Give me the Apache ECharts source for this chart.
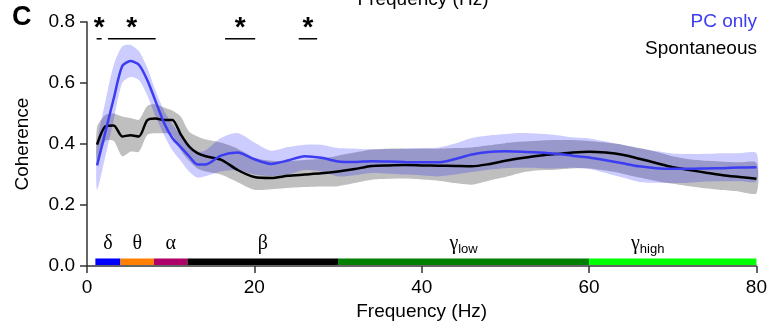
<!DOCTYPE html>
<html>
<head>
<meta charset="UTF-8">
<title>Coherence</title>
<style>
	html, body { margin: 0; padding: 0; background: #fff; }
	#container { width: 770px; height: 326px; }
</style>
</head>
<body>
<div id="container"></div>
<script src="https://cdn.jsdelivr.net/npm/echarts@6/dist/echarts.min.js"></script>
<script>
// frequencies (Hz) at which values were read
var freqs = [1.2, 2.2, 3.2, 4.2, 5.2, 6.2, 7.2, 8.2, 9.2, 10.2, 11.2, 12.2, 13.2, 14.2,
	16, 18, 20, 22, 24, 26, 28, 30, 32, 34, 36, 38, 40, 42, 44, 46, 48, 50,
	52, 54, 56, 58, 60, 62, 64, 66, 68, 70, 72, 74, 76, 78, 80];

// PC only
var pcMean = [0.33, 0.44, 0.55, 0.655, 0.672, 0.66, 0.61, 0.54, 0.47, 0.42, 0.39, 0.36, 0.333, 0.333,
	0.362, 0.372, 0.35, 0.335, 0.346, 0.36, 0.355, 0.343, 0.341, 0.344, 0.343, 0.341, 0.34, 0.34,
	0.351, 0.366, 0.374, 0.376, 0.375, 0.372, 0.368, 0.362, 0.356, 0.347, 0.337, 0.327, 0.321,
	0.319, 0.319, 0.32, 0.321, 0.323, 0.324];
var pcHi = [0.40, 0.54, 0.66, 0.72, 0.725, 0.705, 0.65, 0.575, 0.51, 0.465, 0.43, 0.40, 0.375, 0.38,
	0.42, 0.436, 0.405, 0.378, 0.39, 0.398, 0.398, 0.387, 0.385, 0.383, 0.384, 0.385, 0.387, 0.389,
	0.402, 0.42, 0.428, 0.433, 0.436, 0.434, 0.43, 0.422, 0.418, 0.408, 0.397, 0.386, 0.377,
	0.369, 0.367, 0.368, 0.37, 0.37, 0.37];
var pcLo = [0.25, 0.36, 0.48, 0.60, 0.62, 0.61, 0.56, 0.49, 0.43, 0.38, 0.345, 0.31, 0.29, 0.295,
	0.31, 0.315, 0.30, 0.295, 0.30, 0.315, 0.31, 0.294, 0.298, 0.305, 0.303, 0.30, 0.297, 0.294,
	0.30, 0.308, 0.316, 0.321, 0.322, 0.321, 0.32, 0.322, 0.318, 0.305, 0.29, 0.276, 0.273,
	0.272, 0.273, 0.277, 0.278, 0.278, 0.278];

// Spontaneous
var spMean = [0.398, 0.458, 0.461, 0.425, 0.429, 0.425, 0.478, 0.484, 0.479, 0.479, 0.432, 0.392, 0.37, 0.36,
	0.349, 0.315, 0.292, 0.289, 0.296, 0.30, 0.304, 0.31, 0.318, 0.328, 0.33, 0.331, 0.33, 0.329,
	0.328, 0.327, 0.334, 0.345, 0.354, 0.362, 0.367, 0.372, 0.375, 0.372, 0.365, 0.352, 0.338,
	0.324, 0.315, 0.306, 0.298, 0.292, 0.286];
var spHi = [0.455, 0.495, 0.50, 0.49, 0.485, 0.48, 0.525, 0.53, 0.52, 0.51, 0.49, 0.44, 0.425, 0.415,
	0.405, 0.385, 0.355, 0.345, 0.345, 0.348, 0.352, 0.362, 0.372, 0.382, 0.385, 0.385, 0.385, 0.385,
	0.387, 0.389, 0.396, 0.403, 0.408, 0.411, 0.413, 0.413, 0.41, 0.405, 0.398, 0.387, 0.375,
	0.36, 0.35, 0.345, 0.342, 0.34, 0.338];
var spLo = [0.34, 0.41, 0.41, 0.36, 0.375, 0.375, 0.43, 0.435, 0.435, 0.43, 0.38, 0.345, 0.32, 0.31,
	0.30, 0.275, 0.25, 0.252, 0.256, 0.259, 0.261, 0.262, 0.272, 0.283, 0.286, 0.287, 0.284, 0.28,
	0.272, 0.267, 0.28, 0.292, 0.307, 0.314, 0.316, 0.32, 0.32, 0.313, 0.303, 0.29, 0.279,
	0.27, 0.262, 0.255, 0.249, 0.244, 0.239];

// frequency bands
var bandNames = ['δ', 'θ', 'α', 'β', 'γ', 'γ'];
var bandSubs = ['', '', '', '', 'low', 'high'];
var bandFrom = [1, 4, 8, 12, 30, 60];
var bandTo = [4, 8, 12, 30, 60, 80];
var bandLabelHz = [2.5, 6, 10, 21, 45, 67];
var bandColors = ['#0000ff', '#ff8000', '#b0006a', '#000000', '#008000', '#00ff00'];

// significance bars (Hz)
var sigFrom = [1.15, 2.5, 16.5, 25.3];
var sigTo = [1.75, 8.2, 20.1, 27.5];

var FONT = '"Liberation Sans", Arial, Helvetica, sans-serif';
var SERIF = '"Liberation Serif", "Times New Roman", serif';
var BLUE = '#3c3cf2';

function pair(xs, ys) {
	return xs.map(function (x, i) { return [x, ys[i]]; });
}

// shaded band between lo and hi, drawn as one polygon
function bandSeries(hi, lo, color) {
	return {
		type: 'custom', silent: true,
		encode: { x: 0, y: 1 },
		data: [[freqs[0], lo[0]]],
		renderItem: function (params, api) {
			var top = freqs.map(function (f, i) { return api.coord([f, hi[i]]); });
			var bot = freqs.map(function (f, i) { return api.coord([f, lo[i]]); }).reverse();
			return {
				type: 'polygon',
				shape: { points: top.concat(bot), smooth: 0.25 },
				style: { fill: color }
			};
		}
	};
}

var dom = document.getElementById('container');
var myChart = echarts.init(dom);

var option = {
	animation: false,
	backgroundColor: '#fff',
	grid: { left: 87, right: 10, top: 22, bottom: 58 },
	xAxis: {
		type: 'value', min: 0, max: 80, interval: 20,
		name: 'Frequency (Hz)', nameLocation: 'middle', nameGap: 34,
		nameTextStyle: { fontFamily: FONT, fontSize: 19, color: '#000' },
		axisLine: { lineStyle: { color: '#333', width: 1.5 } },
		axisTick: { length: 7, lineStyle: { color: '#333', width: 1.5 } },
		axisLabel: { margin: 12, fontFamily: FONT, fontSize: 19, color: '#000' },
		splitLine: { show: false }
	},
	yAxis: {
		type: 'value', min: 0, max: 0.8, interval: 0.2,
		name: 'Coherence', nameLocation: 'middle', nameGap: 55,
		nameTextStyle: { fontFamily: FONT, fontSize: 19, color: '#000' },
		axisLine: { show: true, lineStyle: { color: '#333', width: 1.5 } },
		axisTick: { show: true, length: 7, lineStyle: { color: '#333', width: 1.5 } },
		axisLabel: {
			margin: 12, fontFamily: FONT, fontSize: 19, color: '#000',
			formatter: function (v) { return v.toFixed(1); }
		},
		splitLine: { show: false }
	},
	graphic: [
		{ type: 'text', left: 12, top: 4, style: { text: 'C', font: 'bold 27px ' + FONT, fill: '#000' } },
		{ type: 'text', right: 13, top: 12, style: { text: 'PC only', font: '19px ' + FONT, fill: BLUE } },
		{ type: 'text', right: 13, top: 39, style: { text: 'Spontaneous', font: '19px ' + FONT, fill: '#000' } },
		{ type: 'text', x: 423, y: 9, style: { text: 'Frequency (Hz)', font: '19px ' + FONT, fill: '#000', align: 'center', verticalAlign: 'bottom' } }
	],
	series: [
		bandSeries(spHi, spLo, 'rgba(128,128,128,0.5)'),
		{
			name: 'Spontaneous', type: 'line', data: pair(freqs, spMean), symbol: 'none', smooth: 0.25,
			lineStyle: { color: '#000', width: 2.5 }
		},
		bandSeries(pcHi, pcLo, 'rgba(0,0,255,0.2)'),
		{
			name: 'PC only', type: 'line', data: pair(freqs, pcMean), symbol: 'none', smooth: 0.25,
			lineStyle: { color: BLUE, width: 2.5 }
		},
		{
			// band bar along the x axis
			type: 'custom', clip: false, silent: true,
			encode: { x: [0, 1], y: 3 },
			data: bandFrom.map(function (f, i) { return [f, bandTo[i], bandLabelHz[i], 0]; }),
			renderItem: function (params, api) {
				var i = params.dataIndex;
				var p0 = api.coord([api.value(0), 0]);
				var p1 = api.coord([api.value(1), 0.025]);
				var pt = api.coord([api.value(2), 0.072]);
				var txt = bandSubs[i] ? bandNames[i] + '{s|' + bandSubs[i] + '}' : bandNames[i];
				return {
					type: 'group',
					children: [
						{ type: 'rect', shape: { x: p0[0], y: p1[1], width: p1[0] - p0[0], height: p0[1] - p1[1] - 1 },
							style: { fill: bandColors[i] } },
						{ type: 'text', x: pt[0], y: pt[1],
							style: { text: txt, font: '20px ' + SERIF, fill: '#000', align: 'center', verticalAlign: 'middle',
								rich: { s: { fontFamily: FONT, fontSize: 13, verticalAlign: 'bottom', padding: [10, 0, 0, 0] } } } }
					]
				};
			}
		},
		{
			// significance markers
			type: 'custom', clip: false, silent: true,
			encode: { x: [0, 1], y: 2 },
			data: sigFrom.map(function (f, i) { return [f, sigTo[i], 0.745]; }),
			renderItem: function (params, api) {
				var a = api.coord([api.value(0), api.value(2)]);
				var b = api.coord([api.value(1), api.value(2)]);
				return {
					type: 'group',
					children: [
						{ type: 'line', shape: { x1: a[0], y1: a[1], x2: b[0], y2: b[1] },
							style: { stroke: '#000', lineWidth: 1.5 } },
						{ type: 'text', x: (a[0] + b[0]) / 2, y: a[1] - 25,
							style: { text: '*', font: 'bold 28px ' + FONT, fill: '#000', align: 'center', verticalAlign: 'top' } }
					]
				};
			}
		}
	]
};

if (option && typeof option === 'object') {
	myChart.setOption(option, true);
}
</script>
</body>
</html>
